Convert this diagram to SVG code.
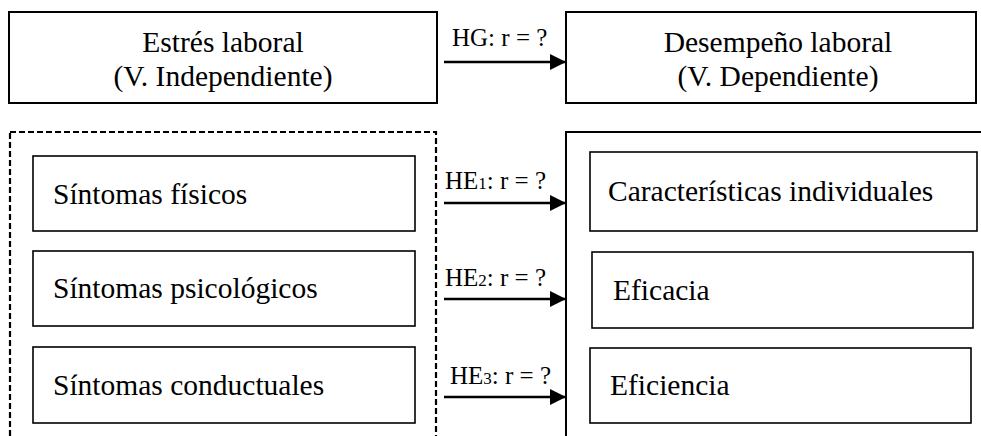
<svg xmlns="http://www.w3.org/2000/svg" width="981" height="436" viewBox="0 0 981 436">
<style>
  text { font-family: "Liberation Serif", "Times New Roman", serif; fill: #000; }
  .main { font-size: 29.5px; }
  .lbl { font-size: 25px; }
  .sub { font-size: 17px; }
  .box { fill: #fff; stroke: #000; stroke-width: 2; }
  .ibox { fill: #fff; stroke: #000; stroke-width: 1.6; }
  .dash { fill: none; stroke: #000; stroke-width: 2.2; stroke-dasharray: 6 3; }
  .conn { stroke: #000; stroke-width: 2.5; fill: none; marker-end: url(#arrow); }
</style>
<defs>
  <marker id="arrow" markerUnits="userSpaceOnUse" markerWidth="17" markerHeight="16" refX="16" refY="8" orient="auto">
    <path d="M0,0 L16,8 L0,16 z" fill="#000"/>
  </marker>
</defs>
<rect width="981" height="436" fill="#fff"/>

<g id="estres">
  <rect class="box" x="9" y="12" width="428" height="91"/>
  <text class="main" x="223" y="52" text-anchor="middle">Estrés laboral</text>
  <text class="main" x="223" y="86" text-anchor="middle">(V. Independiente)</text>
</g>
<g id="desempeno">
  <rect class="box" x="566" y="12" width="410" height="91"/>
  <text class="main" x="778" y="52" text-anchor="middle">Desempeño laboral</text>
  <text class="main" x="778" y="86" text-anchor="middle">(V. Dependiente)</text>
</g>

<g id="dimensiones-estres">
  <rect class="dash" x="10" y="132" width="426" height="320"/>
</g>
<g id="dimensiones-desempeno">
  <rect class="box" x="566" y="132" width="425" height="320"/>
</g>

<g id="sintomas-fisicos">
  <rect class="ibox" x="33" y="156" width="382" height="75"/>
  <text class="main" x="53" y="204">Síntomas físicos</text>
</g>
<g id="sintomas-psicologicos">
  <rect class="ibox" x="33" y="251" width="382" height="75"/>
  <text class="main" x="53" y="298">Síntomas psicológicos</text>
</g>
<g id="sintomas-conductuales">
  <rect class="ibox" x="33" y="347" width="382" height="76"/>
  <text class="main" x="53" y="395">Síntomas conductuales</text>
</g>

<g id="caracteristicas">
  <rect class="ibox" x="590" y="152" width="387" height="79"/>
  <text class="main" x="608" y="201">Características individuales</text>
</g>
<g id="eficacia">
  <rect class="ibox" x="592" y="252" width="381" height="76"/>
  <text class="main" x="613" y="300">Eficacia</text>
</g>
<g id="eficiencia">
  <rect class="ibox" x="590" y="348" width="381" height="75"/>
  <text class="main" x="610" y="395">Eficiencia</text>
</g>

<g id="connectors">
  <line class="conn" x1="444" y1="62" x2="566" y2="62"/>
  <text class="lbl" x="452" y="46">HG: r = ?</text>
  <line class="conn" x1="444" y1="203" x2="566" y2="203"/>
  <text class="lbl" x="445" y="189">HE<tspan class="sub">1</tspan>: r = ?</text>
  <line class="conn" x1="444" y1="299" x2="566" y2="299"/>
  <text class="lbl" x="445" y="286">HE<tspan class="sub">2</tspan>: r = ?</text>
  <line class="conn" x1="444" y1="397" x2="566" y2="397"/>
  <text class="lbl" x="450" y="384">HE<tspan class="sub">3</tspan>: r = ?</text>
</g>
</svg>
